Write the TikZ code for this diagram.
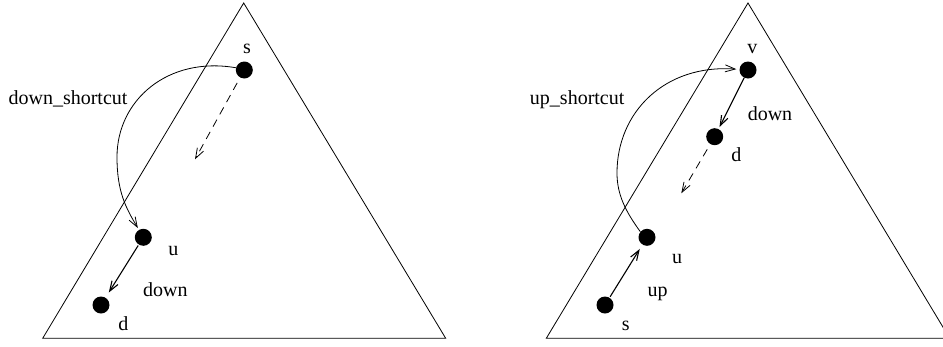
\documentclass[tikz,border=0pt]{standalone}
\usepackage{fontspec}
\setmainfont{Liberation Serif}
\usetikzlibrary{arrows.meta}
\begin{document}
\begin{tikzpicture}[x=1pt,y=-1pt,
  tree/.style={line width=0.8pt},
  vertex/.style={circle,fill=black,inner sep=0pt,minimum size=17pt},
  lbl/.style={anchor=base,inner sep=0pt,font=\fontsize{20}{24}\selectfont},
  edge/.style={line width=1.1pt,-{Straight Barb[length=10pt,width=7pt]}},
  hop/.style={line width=0.8pt,-{Straight Barb[length=10pt,width=7pt]}},
  guess/.style={line width=0.8pt,dash pattern=on 8pt off 6pt,-{Straight Barb[length=10pt,width=7pt]}}]
\useasboundingbox (0,0) rectangle (943,346);
\clip (0,0) rectangle (943,346);

% ---- left tree: down shortcut ----
\draw[tree] (42.7,338.3) -- (243.7,3) -- (445.7,338.3) -- cycle;
\node[vertex] (ls) at (244.3,70) {};
\node[vertex] (lu) at (143.3,237.3) {};
\node[vertex] (ld) at (101,305) {};
\coordinate (lend) at (195,159.3);
\node[lbl] at (247,53.3) {s};
\node[lbl] at (173.3,255) {u};
\node[lbl] at (123.3,330) {d};
\node[lbl] at (165.3,296.7) {down};
\node[lbl] at (68,104) {down\_shortcut};
\draw[guess,shorten <=6pt] (ls) -- (lend);
\draw[edge,shorten <=1pt,shorten >=6pt] (lu) -- (ld);
\draw[hop,shorten >=2pt] (ls.165) .. controls (168,56) and (117,100) .. (117,157)
  .. controls (117,192) and (126,208) .. (lu);

% ---- right tree: up shortcut ----
\draw[tree] (546.3,338.3) -- (748,3) -- (949.7,338.3) -- cycle;
\node[vertex] (rv) at (748,70) {};
\node[vertex] (rd) at (714.7,136.7) {};
\node[vertex] (ru) at (647,237.3) {};
\node[vertex] (rs) at (605,305) {};
\coordinate (rend) at (681.3,193.3);
\node[lbl] at (752.3,53.3) {v};
\node[lbl] at (770,120) {down};
\node[lbl] at (736.3,161.7) {d};
\node[lbl] at (677,263.3) {u};
\node[lbl] at (657.5,296.7) {up};
\node[lbl] at (625.7,330) {s};
\node[lbl] at (577.2,104) {up\_shortcut};
\draw[edge,shorten >=2pt] (rv) -- (rd);
\draw[guess,shorten <=6pt] (rd) -- (rend);
\draw[edge,shorten <=1pt,shorten >=5pt] (rs) -- (ru);
\draw[hop,shorten >=3pt] (ru.140) .. controls (626,212) and (617,195) .. (617,173)
  .. controls (617,112) and (665,64) .. (rv);
\end{tikzpicture}
\end{document}
